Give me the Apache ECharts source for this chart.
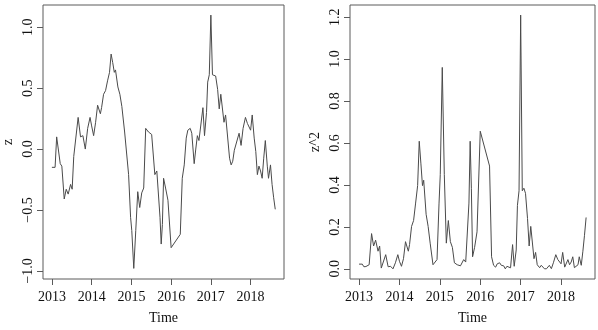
<!DOCTYPE html>
<html>
<head>
<meta charset="utf-8">
<script src="https://cdn.jsdelivr.net/npm/echarts@6/dist/echarts.min.js"></script>
<style>
  html, body { margin: 0; padding: 0; background: #fff; }
  #chart { width: 598px; height: 330px; }
</style>
</head>
<body>
<div id="chart"></div>
<script>
// time in decimal years
const time = [
  2013.00, 2013.08, 2013.12, 2013.17, 2013.21, 2013.25, 2013.31, 2013.36, 2013.41, 2013.47,
  2013.51, 2013.55, 2013.59, 2013.66, 2013.72, 2013.78, 2013.84, 2013.90, 2013.96, 2014.00,
  2014.05, 2014.10, 2014.15, 2014.22, 2014.25, 2014.30, 2014.35, 2014.40, 2014.45, 2014.49,
  2014.53, 2014.57, 2014.60, 2014.66, 2014.71, 2014.76, 2014.83, 2014.93, 2014.98, 2015.01,
  2015.06, 2015.11, 2015.16, 2015.18, 2015.21, 2015.26, 2015.31, 2015.36, 2015.39, 2015.43,
  2015.47, 2015.51, 2015.54, 2015.59, 2015.64, 2015.67, 2015.72, 2015.75, 2015.78, 2015.81,
  2015.86, 2015.92, 2015.95, 2016.00, 2016.23, 2016.28, 2016.33, 2016.38, 2016.42, 2016.48,
  2016.52, 2016.58, 2016.62, 2016.66, 2016.70, 2016.75, 2016.80, 2016.84, 2016.89, 2016.92,
  2016.96, 2017.00, 2017.04, 2017.08, 2017.12, 2017.17, 2017.21, 2017.25, 2017.29, 2017.33,
  2017.37, 2017.41, 2017.47, 2017.51, 2017.55, 2017.59, 2017.64, 2017.71, 2017.76, 2017.81,
  2017.87, 2017.92, 2017.96, 2018.00, 2018.04, 2018.09, 2018.13, 2018.17, 2018.21, 2018.25,
  2018.29, 2018.33, 2018.37, 2018.42, 2018.45, 2018.50, 2018.54, 2018.58, 2018.62
]
const z = [
  -0.15, -0.15, 0.10, 0.105, -0.12, -0.14, -0.41, -0.33, -0.37, -0.29,
  -0.33, -0.06, -0.05, 0.26, 0.10, 0.11, 0.00, 0.17, 0.26, 0.19,
  0.11, 0.22, 0.36, 0.29, 0.34, 0.45, 0.48, 0.56, 0.63, 0.78,
  0.71, 0.63, 0.65, 0.51, 0.45, 0.35, 0.14, -0.21, -0.56, -0.67,
  -0.98, -0.67, -0.35, -0.34, -0.48, -0.36, -0.32, 0.17, 0.18, 0.14,
  0.145, 0.12, 0.12, -0.21, -0.18, -0.17, -0.56, -0.78, -0.62, -0.24,
  -0.32, -0.42, -0.43, -0.81, -0.70, -0.24, -0.13, 0.09, 0.155, 0.17,
  0.13, -0.12, 0.00, 0.11, 0.07, 0.07, 0.34, 0.11, 0.30, 0.55,
  0.61, 1.10, 0.61, 0.62, 0.60, 0.49, 0.33, 0.45, 0.44, 0.22,
  0.28, 0.14, -0.075, -0.13, -0.10, -0.01, -0.02, 0.13, 0.03, 0.17,
  0.26, 0.21, 0.22, 0.155, 0.28, 0.09, -0.02, -0.21, -0.14, -0.18,
  -0.24, -0.075, 0.07, -0.14, -0.24, -0.13, -0.29, -0.40, -0.495
]
const z2 = [
  0.0225, 0.0225, 0.0100, 0.0110, 0.0144, 0.0196, 0.1681, 0.1089, 0.1369, 0.0841,
  0.1089, 0.0036, 0.0025, 0.0676, 0.0100, 0.0121, 0.0000, 0.0289, 0.0676, 0.0361,
  0.0121, 0.0484, 0.1296, 0.0841, 0.1156, 0.2025, 0.2304, 0.3136, 0.3969, 0.6084,
  0.5041, 0.3969, 0.4225, 0.2601, 0.2025, 0.1225, 0.0196, 0.0441, 0.3136, 0.4489,
  0.9604, 0.4489, 0.1225, 0.1156, 0.2304, 0.1296, 0.1024, 0.0289, 0.0324, 0.0196,
  0.0210, 0.0144, 0.0144, 0.0441, 0.0324, 0.0289, 0.3136, 0.6084, 0.3844, 0.0576,
  0.1024, 0.1764, 0.1849, 0.6561, 0.4900, 0.0576, 0.0169, 0.0081, 0.0240, 0.0289,
  0.0169, 0.0144, 0.0000, 0.0121, 0.0049, 0.0049, 0.1156, 0.0121, 0.0900, 0.3025,
  0.3721, 1.2100, 0.3721, 0.3844, 0.3600, 0.2401, 0.1089, 0.2025, 0.1936, 0.0484,
  0.0784, 0.0196, 0.0056, 0.0169, 0.0100, 0.0001, 0.0004, 0.0169, 0.0009, 0.0289,
  0.0676, 0.0441, 0.0484, 0.0240, 0.0784, 0.0081, 0.0004, 0.0441, 0.0196, 0.0324,
  0.0576, 0.0056, 0.0049, 0.0196, 0.0576, 0.0169, 0.0841, 0.1600, 0.2450
]
const yearTicks = [2013, 2014, 2015, 2016, 2017, 2018]
const zTicks = [-1, -0.5, 0, 0.5, 1]
const z2Ticks = [0, 0.2, 0.4, 0.6, 0.8, 1.0, 1.2]

const font = 'Liberation Serif'
const lineColor = '#4a4a4a'
const boxColor = '#5a5a5a'

function fmt(v) {
  return v.toFixed(1).replace('-', '\u2212')
}

function xAxisFor(gridIndex) {
  return {
    type: 'value',
    gridIndex: gridIndex,
    min: 2012.776,
    max: 2018.84,
    name: 'Time',
    nameLocation: 'middle',
    nameGap: 32,
    nameTextStyle: { fontFamily: font, fontSize: 14, color: '#111' },
    axisLine: { show: false, onZero: false },
    splitLine: { show: false },
    axisTick: {
      show: true,
      customValues: yearTicks,
      length: 6,
      lineStyle: { color: boxColor }
    },
    axisLabel: {
      customValues: yearTicks,
      formatter: v => String(Math.round(v)),
      fontFamily: font,
      fontSize: 14,
      color: '#111',
      margin: 11
    }
  }
}

function yAxisFor(gridIndex, name, ticks, min, max, nameGap) {
  return {
    type: 'value',
    gridIndex: gridIndex,
    min: min,
    max: max,
    name: name,
    nameLocation: 'middle',
    nameGap: nameGap,
    nameRotate: 90,
    nameTextStyle: { fontFamily: font, fontSize: 14, color: '#111' },
    axisLine: { show: false, onZero: false },
    splitLine: { show: false },
    axisTick: {
      show: true,
      customValues: ticks,
      length: 6,
      lineStyle: { color: boxColor }
    },
    axisLabel: {
      customValues: ticks,
      formatter: fmt,
      rotate: 90,
      fontFamily: font,
      fontSize: 14,
      color: '#111',
      margin: 8
    }
  }
}

const chart = echarts.init(document.getElementById('chart'))
chart.setOption({
  animation: false,
  grid: [
    { left: 38, top: 5, width: 246, height: 277, show: true, borderColor: boxColor, borderWidth: 1 },
    { left: 350, top: 5, width: 245, height: 277, show: true, borderColor: boxColor, borderWidth: 1 }
  ],
  xAxis: [xAxisFor(0), xAxisFor(1)],
  yAxis: [
    yAxisFor(0, 'z', zTicks, -1.067, 1.183, 28),
    yAxisFor(1, 'z^2', z2Ticks, -0.0484, 1.258, 28)
  ],
  series: [
    {
      type: 'line',
      xAxisIndex: 0,
      yAxisIndex: 0,
      showSymbol: false,
      data: time.map((t, i) => [t, z[i]]),
      lineStyle: { color: lineColor, width: 1 }
    },
    {
      type: 'line',
      xAxisIndex: 1,
      yAxisIndex: 1,
      showSymbol: false,
      data: time.map((t, i) => [t, z2[i]]),
      lineStyle: { color: lineColor, width: 1 }
    }
  ]
})
</script>
</body>
</html>
